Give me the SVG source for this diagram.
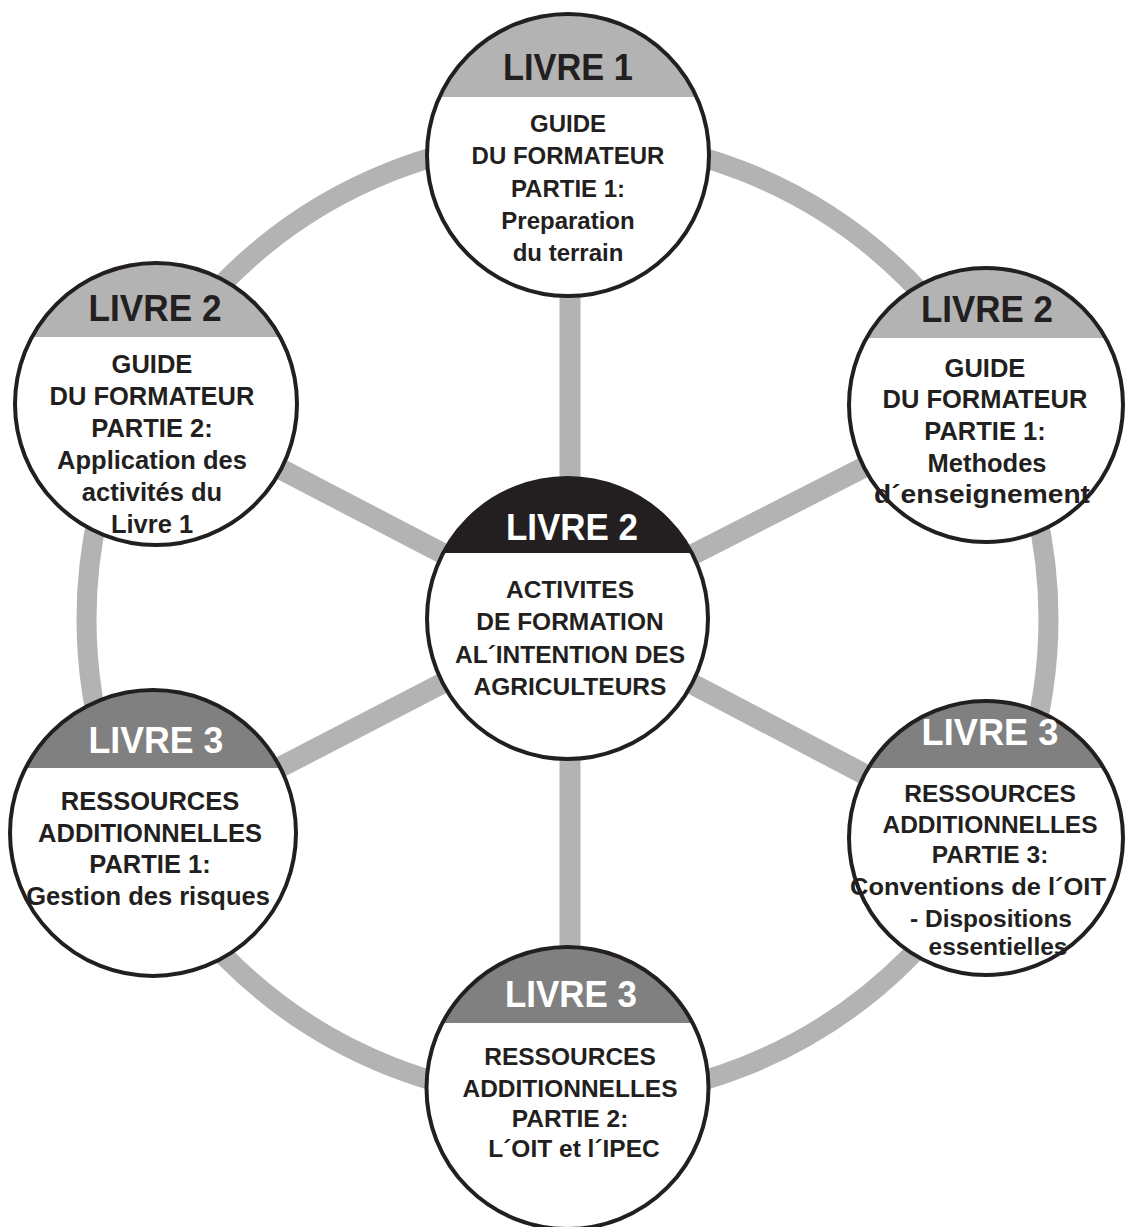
<svg xmlns="http://www.w3.org/2000/svg" width="1125" height="1227" viewBox="0 0 1125 1227">
<style>
.ring{fill:none;stroke:#b3b3b3;stroke-width:20}
.spoke{stroke:#b3b3b3;stroke-width:21}
.disk{fill:#fff}
.outline{fill:none;stroke:#231f20;stroke-width:4}
.hl{fill:#b3b3b3}
.hd{fill:#808080}
.hb{fill:#231f20}
.ht{font-family:"Liberation Sans",Arial,sans-serif;font-weight:bold;font-size:36px;text-anchor:middle}
.dark{fill:#231f20}
.light{fill:#ffffff}
.bt{font-family:"Liberation Sans",Arial,sans-serif;font-weight:bold;text-anchor:middle;fill:#231f20}
</style>
<defs>
<clipPath id="c-top"><circle cx="568" cy="155" r="141"/></clipPath>
<clipPath id="c-lt"><circle cx="156" cy="404" r="141"/></clipPath>
<clipPath id="c-rt"><circle cx="986" cy="405" r="137"/></clipPath>
<clipPath id="c-center"><circle cx="567.5" cy="618.5" r="140.5"/></clipPath>
<clipPath id="c-lb"><circle cx="153" cy="833" r="143"/></clipPath>
<clipPath id="c-rb"><circle cx="986" cy="838" r="137"/></clipPath>
<clipPath id="c-bot"><circle cx="567.5" cy="1088" r="141"/></clipPath>
</defs>
<rect width="1125" height="1227" fill="#ffffff"/>
<g id="connectors">
<circle class="ring" cx="567.5" cy="619" r="481"/>
<line class="spoke" x1="570" y1="618" x2="570" y2="155"/>
<line class="spoke" x1="570" y1="618" x2="570" y2="1088"/>
<line class="spoke" x1="567.5" y1="618.5" x2="156" y2="404"/>
<line class="spoke" x1="567.5" y1="618.5" x2="986" y2="405"/>
<line class="spoke" x1="567.5" y1="618.5" x2="153" y2="833"/>
<line class="spoke" x1="567.5" y1="618.5" x2="986" y2="838"/>
</g>
<g id="node-top">
<circle class="disk" cx="568" cy="155" r="141"/>
<rect class="hl" x="420" y="0" width="300" height="97" clip-path="url(#c-top)"/>
<circle class="outline" cx="568" cy="155" r="141"/>
<text class="ht dark" x="568" y="80" textLength="130" lengthAdjust="spacingAndGlyphs">LIVRE 1</text>
<g class="bt" font-size="24">
<text x="568" y="132">GUIDE</text>
<text x="568" y="164">DU FORMATEUR</text>
<text x="568" y="197">PARTIE 1:</text>
<text x="568" y="229">Preparation</text>
<text x="568" y="261">du terrain</text>
</g>
</g>
<g id="node-left-top">
<circle class="disk" cx="156" cy="404" r="141"/>
<rect class="hl" x="10" y="255" width="300" height="82" clip-path="url(#c-lt)"/>
<circle class="outline" cx="156" cy="404" r="141"/>
<text class="ht dark" x="155" y="321" textLength="133" lengthAdjust="spacingAndGlyphs">LIVRE 2</text>
<g class="bt" font-size="25.5">
<text x="152" y="373">GUIDE</text>
<text x="152" y="405">DU FORMATEUR</text>
<text x="152" y="437">PARTIE 2:</text>
<text x="152" y="469">Application des</text>
<text x="152" y="501">activités du</text>
<text x="152" y="533">Livre 1</text>
</g>
</g>
<g id="node-right-top">
<circle class="disk" cx="986" cy="405" r="137"/>
<rect class="hl" x="845" y="260" width="290" height="78" clip-path="url(#c-rt)"/>
<circle class="outline" cx="986" cy="405" r="137"/>
<text class="ht dark" x="987" y="322" textLength="132" lengthAdjust="spacingAndGlyphs">LIVRE 2</text>
<g class="bt" font-size="25.5">
<text x="985" y="377">GUIDE</text>
<text x="985" y="408">DU FORMATEUR</text>
<text x="985" y="440">PARTIE 1:</text>
<text x="987" y="472">Methodes</text>
<text x="982" y="503" textLength="216" lengthAdjust="spacingAndGlyphs">d´enseignement</text>
</g>
</g>
<g id="node-center">
<circle class="disk" cx="567.5" cy="618.5" r="140.5"/>
<rect class="hb" x="420" y="470" width="300" height="83" clip-path="url(#c-center)"/>
<circle class="outline" cx="567.5" cy="618.5" r="140.5"/>
<text class="ht light" x="572" y="540" textLength="132" lengthAdjust="spacingAndGlyphs">LIVRE 2</text>
<g class="bt" font-size="24.5">
<text x="570" y="598">ACTIVITES</text>
<text x="570" y="630">DE FORMATION</text>
<text x="570" y="663">AL´INTENTION DES</text>
<text x="570" y="695">AGRICULTEURS</text>
</g>
</g>
<g id="node-left-bottom">
<circle class="disk" cx="153" cy="833" r="143"/>
<rect class="hd" x="0" y="680" width="310" height="88" clip-path="url(#c-lb)"/>
<circle class="outline" cx="153" cy="833" r="143"/>
<text class="ht light" x="156" y="753" textLength="135" lengthAdjust="spacingAndGlyphs">LIVRE 3</text>
<g class="bt" font-size="25.5">
<text x="150" y="810">RESSOURCES</text>
<text x="150" y="842">ADDITIONNELLES</text>
<text x="150" y="873">PARTIE 1:</text>
<text x="148" y="905">Gestion des risques</text>
</g>
</g>
<g id="node-right-bottom">
<circle class="disk" cx="986" cy="838" r="137"/>
<rect class="hd" x="845" y="690" width="290" height="78" clip-path="url(#c-rb)"/>
<circle class="outline" cx="986" cy="838" r="137"/>
<text class="ht light" x="990" y="745" textLength="137" lengthAdjust="spacingAndGlyphs">LIVRE 3</text>
<g class="bt" font-size="24.5">
<text x="990" y="802">RESSOURCES</text>
<text x="990" y="833">ADDITIONNELLES</text>
<text x="990" y="863">PARTIE 3:</text>
<text x="978" y="895" textLength="256" lengthAdjust="spacingAndGlyphs">Conventions de l´OIT</text>
<text x="991" y="927">- Dispositions</text>
<text x="998" y="955">essentielles</text>
</g>
</g>
<g id="node-bottom">
<circle class="disk" cx="567.5" cy="1088" r="141"/>
<rect class="hd" x="420" y="940" width="300" height="83" clip-path="url(#c-bot)"/>
<circle class="outline" cx="567.5" cy="1088" r="141"/>
<text class="ht light" x="571" y="1007" textLength="132" lengthAdjust="spacingAndGlyphs">LIVRE 3</text>
<g class="bt" font-size="24.5">
<text x="570" y="1065">RESSOURCES</text>
<text x="570" y="1097">ADDITIONNELLES</text>
<text x="570" y="1127">PARTIE 2:</text>
<text x="574" y="1157">L´OIT et l´IPEC</text>
</g>
</g>
</svg>
